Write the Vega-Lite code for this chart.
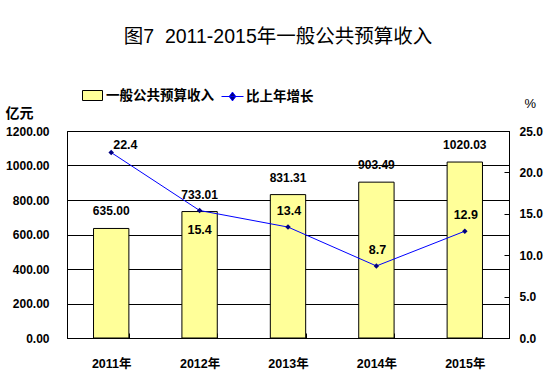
{
  "$schema": "https://vega.github.io/schema/vega-lite/v6.json",
  "width": 442,
  "height": 207,
  "autosize": {"type": "none"},
  "padding": {"left": 67, "top": 131, "right": 44, "bottom": 40},
  "background": "white",
  "title": {
    "text": "图7\u00a0\u00a02011-2015年一般公共预算收入",
    "fontSize": 19.5,
    "fontWeight": "normal",
    "font": "Liberation Sans, Noto Sans CJK SC, sans-serif",
    "color": "black",
    "anchor": "middle",
    "dx": -10,
    "offset": 38
  },
  "data": {
    "values": [
      {"year": "2011年", "revenue": 635.00, "growth": 22.4},
      {"year": "2012年", "revenue": 733.01, "growth": 15.4},
      {"year": "2013年", "revenue": 831.31, "growth": 13.4},
      {"year": "2014年", "revenue": 903.49, "growth": 8.7},
      {"year": "2015年", "revenue": 1020.03, "growth": 12.9}
    ]
  },
  "encoding": {
    "x": {
      "field": "year",
      "type": "nominal",
      "sort": null,
      "scale": {"paddingInner": 0.6, "paddingOuter": 0.3},
      "axis": {
        "title": null,
        "labelAngle": 0,
        "labelFontWeight": "bold",
        "labelFontSize": 12.5,
        "labelFont": "Liberation Sans, Noto Sans CJK SC, sans-serif",
        "labelColor": "black",
        "labelPadding": 24,
        "tickBand": "extent",
        "ticks": true,
        "tickSize": -5,
        "tickColor": "black",
        "domainColor": "black"
      }
    }
  },
  "layer": [
    {
      "encoding": {
        "y": {
          "field": "revenue",
          "type": "quantitative",
          "scale": {"domain": [0, 1200], "nice": false},
          "axis": {
            "values": [0, 200, 400, 600, 800, 1000, 1200],
            "format": ".2f",
            "grid": true,
            "gridColor": "black",
            "gridOpacity": 1,
            "ticks": false,
            "domainColor": "black",
            "labelFont": "Liberation Sans, sans-serif",
            "labelFontWeight": "bold",
            "labelFontSize": 12,
            "labelColor": "black",
            "labelPadding": 18,
            "title": "亿元",
            "titleAngle": 0,
            "titleX": -62,
            "titleY": -14,
            "titleAlign": "left",
            "titleBaseline": "alphabetic",
            "titleFont": "Noto Sans CJK SC, sans-serif",
            "titleFontSize": 14,
            "titleFontWeight": "bold",
            "titleColor": "black"
          }
        }
      },
      "layer": [
        {
          "mark": {"type": "bar", "stroke": "black", "strokeWidth": 1},
          "encoding": {
            "fill": {
              "datum": "一般公共预算收入",
              "scale": {"range": ["#FFFF99"]},
              "legend": {
                "orient": "none",
                "legendX": 15,
                "legendY": -46,
                "direction": "horizontal",
                "title": null,
                "symbolType": "M-1,-0.5H1V0.5H-1Z",
                "symbolSize": 400,
                "symbolStrokeColor": "black",
                "symbolStrokeWidth": 1,
                "symbolOpacity": 1,
                "labelFont": "Noto Sans CJK SC, sans-serif",
                "labelFontSize": 13.5,
                "labelFontWeight": "bold",
                "labelColor": "black",
                "labelOffset": 3
              }
            }
          }
        },
        {
          "mark": {
            "type": "text",
            "baseline": "alphabetic",
            "dy": -13,
            "font": "Liberation Sans, sans-serif",
            "fontWeight": "bold",
            "fontSize": 12,
            "color": "black"
          },
          "encoding": {
            "text": {"field": "revenue", "type": "quantitative", "format": ".2f"}
          }
        }
      ]
    },
    {
      "encoding": {
        "y": {
          "field": "growth",
          "type": "quantitative",
          "scale": {"domain": [0, 25], "nice": false},
          "axis": {
            "orient": "right",
            "values": [0, 5, 10, 15, 20, 25],
            "format": ".1f",
            "grid": false,
            "ticks": true,
            "tickSize": -5,
            "tickColor": "black",
            "domainColor": "black",
            "labelFont": "Liberation Sans, sans-serif",
            "labelFontWeight": "bold",
            "labelFontSize": 12,
            "labelColor": "black",
            "labelPadding": 15,
            "title": "%",
            "titleAngle": 0,
            "titleX": 15,
            "titleY": -24,
            "titleAlign": "left",
            "titleBaseline": "alphabetic",
            "titleFont": "Liberation Sans, sans-serif",
            "titleFontSize": 13,
            "titleFontWeight": "normal",
            "titleColor": "black"
          }
        }
      },
      "layer": [
        {
          "mark": {"type": "line", "strokeWidth": 1},
          "encoding": {
            "stroke": {
              "datum": "比上年增长",
              "scale": {"range": ["#0000FF"]},
              "legend": {
                "orient": "none",
                "legendX": 154,
                "legendY": -46,
                "direction": "horizontal",
                "title": null,
                "symbolType": "M-1,0H1M0,-0.4L0.3,0L0,0.4L-0.3,0Z",
                "symbolSize": 484,
                "symbolFillColor": "#000080",
                "symbolStrokeWidth": 1,
                "symbolOpacity": 1,
                "labelFont": "Noto Sans CJK SC, sans-serif",
                "labelFontSize": 13.5,
                "labelFontWeight": "bold",
                "labelColor": "black",
                "labelOffset": 2
              }
            }
          }
        },
        {
          "mark": {"type": "point", "shape": "diamond", "filled": true, "color": "#000080", "size": 30, "opacity": 1}
        },
        {
          "transform": [{"filter": "datum.year === '2011年'"}],
          "mark": {
            "type": "text",
            "align": "left",
            "baseline": "alphabetic",
            "dx": 2,
            "dy": -4,
            "font": "Liberation Sans, sans-serif",
            "fontWeight": "bold",
            "fontSize": 12.5,
            "color": "black"
          },
          "encoding": {"text": {"field": "growth", "type": "quantitative", "format": ".1f"}}
        },
        {
          "transform": [{"filter": "datum.year === '2012年'"}],
          "mark": {
            "type": "text",
            "align": "center",
            "baseline": "alphabetic",
            "dy": 24,
            "font": "Liberation Sans, sans-serif",
            "fontWeight": "bold",
            "fontSize": 12.5,
            "color": "black"
          },
          "encoding": {"text": {"field": "growth", "type": "quantitative", "format": ".1f"}}
        },
        {
          "transform": [{"filter": "datum.year !== '2011年' && datum.year !== '2012年'"}],
          "mark": {
            "type": "text",
            "align": "center",
            "baseline": "alphabetic",
            "dx": 1,
            "dy": -12,
            "font": "Liberation Sans, sans-serif",
            "fontWeight": "bold",
            "fontSize": 12.5,
            "color": "black"
          },
          "encoding": {"text": {"field": "growth", "type": "quantitative", "format": ".1f"}}
        }
      ]
    }
  ],
  "resolve": {"scale": {"y": "independent", "fill": "independent", "stroke": "independent"}},
  "config": {
    "view": {"stroke": "black", "strokeWidth": 1, "fill": "white"}
  }
}
